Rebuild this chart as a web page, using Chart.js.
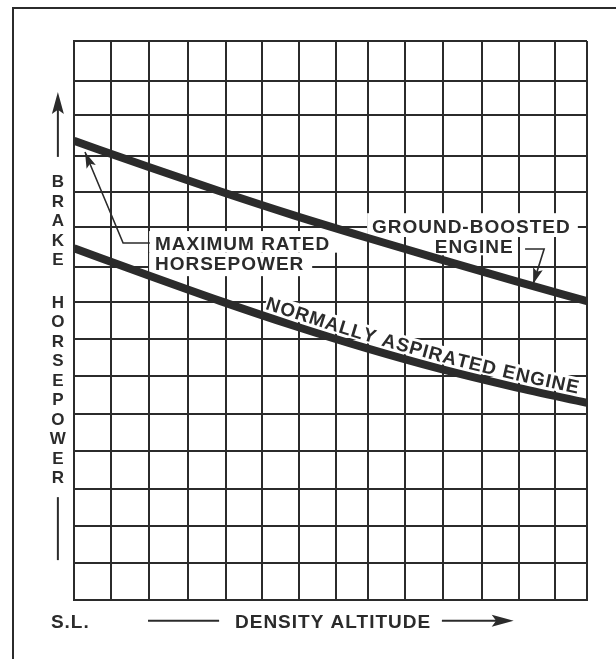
<!DOCTYPE html>
<html><head><meta charset="utf-8">
<script src="https://cdn.jsdelivr.net/npm/chart.js@4/dist/chart.umd.min.js"></script>
<style>html,body{margin:0;padding:0;background:#fff}#wrap{width:616px;height:659px;position:relative}</style>
</head><body><div id="wrap"><canvas id="c" width="616" height="659"></canvas></div>
<script>
// ---- data (grid units) ----
const altitude = [0, 2, 4, 6, 8, 10, 12, 14];
const groundBoosted = [12.32, 11.63, 10.96, 10.32, 9.72, 9.14, 8.57, 8.02];
const normallyAspirated = [9.44, 8.72, 8.02, 7.36, 6.75, 6.20, 5.72, 5.29];
// grid line positions (hand-drawn grid, slightly irregular)
const xGridTicks = [0, 1.01, 2.05, 3.11, 4.15, 5.13, 6.14, 7.15, 8.02, 9.02, 10.07, 11.13, 12.14, 13.13, 14];
const yGridTicks = [0, 0.99, 1.99, 2.98, 4.0, 4.99, 6.01, 7.0, 8.0, 8.94, 10.01, 10.95, 11.91, 13.01, 13.93, 15];
// texts
const yTitle = 'BRAKE HORSEPOWER';
const xTitle = 'DENSITY ALTITUDE';
const seaLevel = 'S.L.';
const maxLabel = ['MAXIMUM RATED', 'HORSEPOWER'];
const gbLabel = ['GROUND-BOOSTED', 'ENGINE'];
const naLabel = 'NORMALLY ASPIRATED ENGINE';

const INK = '#2b2b2b';
const FAM = '"Liberation Sans", Arial, Helvetica, sans-serif';
const FONT = 'bold 19px ' + FAM;

function P(chart, x, y) { return [chart.scales.x.getPixelForValue(x), chart.scales.y.getPixelForValue(y)]; }

function arrowHead(ctx, x1, y1, x2, y2, len, hw) {
  const a = Math.atan2(y2 - y1, x2 - x1);
  ctx.beginPath();
  ctx.moveTo(x2, y2);
  ctx.lineTo(x2 - len * Math.cos(a) + hw * Math.sin(a), y2 - len * Math.sin(a) - hw * Math.cos(a));
  ctx.lineTo(x2 - len * 0.8 * Math.cos(a), y2 - len * 0.8 * Math.sin(a));
  ctx.lineTo(x2 - len * Math.cos(a) - hw * Math.sin(a), y2 - len * Math.sin(a) + hw * Math.cos(a));
  ctx.closePath();
  ctx.fill();
}

function curvePoly(chart, idx) {
  const pts = chart.getDatasetMeta(idx).data;
  const poly = [];
  for (let i = 0; i < pts.length - 1; i++) {
    const a = pts[i], b = pts[i + 1];
    const c1x = a.cp2x ?? a.x, c1y = a.cp2y ?? a.y, c2x = b.cp1x ?? b.x, c2y = b.cp1y ?? b.y;
    for (let k = 0; k < 30; k++) {
      const t = k / 30, u = 1 - t;
      poly.push([u*u*u*a.x + 3*u*u*t*c1x + 3*u*t*t*c2x + t*t*t*b.x,
                 u*u*u*a.y + 3*u*u*t*c1y + 3*u*t*t*c2y + t*t*t*b.y]);
    }
  }
  const l = pts[pts.length - 1];
  poly.push([l.x, l.y]);
  const cum = [0];
  for (let i = 1; i < poly.length; i++) cum.push(cum[i-1] + Math.hypot(poly[i][0]-poly[i-1][0], poly[i][1]-poly[i-1][1]));
  return {poly, cum};
}
function at(c, s) {
  let i = 1;
  while (i < c.cum.length - 1 && c.cum[i] < s) i++;
  const p0 = c.poly[i-1], p1 = c.poly[i];
  const seg = c.cum[i] - c.cum[i-1] || 1;
  const t = (s - c.cum[i-1]) / seg;
  return [p0[0] + (p1[0]-p0[0]) * t, p0[1] + (p1[1]-p0[1]) * t, Math.atan2(p1[1]-p0[1], p1[0]-p0[0])];
}
function naGlyphs(chart, ctx) {
  const c = curvePoly(chart, 1);
  const sx = chart.scales.x.getPixelForValue(5.13);
  let s = 0;
  for (let i = 1; i < c.poly.length; i++) { if (c.poly[i][0] >= sx) { s = c.cum[i]; break; } }
  ctx.font = FONT;
  const LS = 1.0, D = 7;
  const out = [];
  for (const ch of naLabel) {
    const w = ctx.measureText(ch).width;
    const adv = w + LS;
    const [px, py, a] = at(c, s + adv / 2);
    out.push({ch, x: px + D * Math.sin(a), y: py - D * Math.cos(a), a, adv});
    s += adv;
  }
  return out;
}

const annot = {
  id: 'annot',
  beforeDraw(chart) {
    const ctx = chart.ctx;
    ctx.save();
    ctx.strokeStyle = INK; ctx.lineWidth = 2;
    ctx.beginPath(); ctx.moveTo(13, 659); ctx.lineTo(13, 8); ctx.lineTo(616, 8); ctx.stroke();
    ctx.restore();
  },
  beforeDatasetsDraw(chart) {
    const ctx = chart.ctx;
    ctx.save();
    ctx.fillStyle = '#fff';
    const rect = (x1, y1, x2, y2) => { const a = P(chart, x1, y1), b = P(chart, x2, y2); ctx.fillRect(a[0], a[1], b[0]-a[0], b[1]-a[1]); };
    rect(2.05, 9.90, 7.2, 9.32);   // MAXIMUM RATED
    rect(2.05, 9.32, 6.5, 8.69);   // HORSEPOWER
    rect(8.0, 10.38, 13.75, 9.74); // GROUND-BOOSTED
    rect(9.66, 9.77, 12.1, 9.25);  // ENGINE
    for (const g of naGlyphs(chart, ctx)) {
      ctx.save(); ctx.translate(g.x, g.y); ctx.rotate(g.a);
      ctx.fillRect(-g.adv/2 - 0.5, -16, g.adv + 1, 18);
      ctx.restore();
    }
    ctx.restore();
  },
  afterDatasetsDraw(chart) {
    const ctx = chart.ctx;
    ctx.save();
    ctx.fillStyle = INK; ctx.strokeStyle = INK;
    ctx.font = FONT;
    ctx.textBaseline = 'alphabetic';
    try { ctx.letterSpacing = '1px'; } catch (e) {}
    ctx.textAlign = 'left';
    let p = P(chart, 2.21, 9.39); ctx.fillText(maxLabel[0], p[0], p[1]);
    p = P(chart, 2.21, 8.855); ctx.fillText(maxLabel[1], p[0], p[1]);
    p = P(chart, 8.13, 9.85); ctx.fillText(gbLabel[0], p[0], p[1]);
    ctx.textAlign = 'center';
    p = P(chart, 10.92, 9.31); ctx.fillText(gbLabel[1], p[0], p[1]);
    ctx.lineWidth = 1.6;
    let t = P(chart, 0.30, 12.02), m = P(chart, 1.34, 9.58), e = P(chart, 2.07, 9.58);
    ctx.beginPath(); ctx.moveTo(e[0], e[1]); ctx.lineTo(m[0], m[1]); ctx.lineTo(t[0], t[1]); ctx.stroke();
    arrowHead(ctx, m[0], m[1], t[0], t[1], 16, 5);
    t = P(chart, 12.53, 8.48); m = P(chart, 12.83, 9.42); e = P(chart, 12.31, 9.42);
    ctx.beginPath(); ctx.moveTo(e[0], e[1]); ctx.lineTo(m[0], m[1]); ctx.lineTo(t[0], t[1]); ctx.stroke();
    arrowHead(ctx, m[0], m[1], t[0], t[1], 16, 5);
    try { ctx.letterSpacing = '0px'; } catch (e2) {}
    ctx.textAlign = 'center';
    for (const g of naGlyphs(chart, ctx)) {
      ctx.save(); ctx.translate(g.x, g.y); ctx.rotate(g.a);
      ctx.fillText(g.ch, 0, 0);
      ctx.restore();
    }
    ctx.font = 'bold 17px ' + FAM;
    ctx.textAlign = 'center';
    const yx = chart.scales.x.getPixelForValue(-0.44);
    let yy = chart.scales.y.getPixelForValue(11.24) + 6;
    for (const ch of yTitle) {
      if (ch === ' ') { yy += 23; continue; }
      ctx.fillText(ch, yx, yy);
      yy += 19.5;
    }
    ctx.lineWidth = 2;
    let a1 = P(chart, -0.44, 11.89), a2 = P(chart, -0.44, 13.63);
    ctx.beginPath(); ctx.moveTo(a1[0], a1[1]); ctx.lineTo(a2[0], a2[1] + 10); ctx.stroke();
    arrowHead(ctx, a1[0], a1[1], a2[0], a2[1], 22, 6);
    a1 = P(chart, -0.44, 2.76); a2 = P(chart, -0.44, 1.07);
    ctx.beginPath(); ctx.moveTo(a1[0], a1[1]); ctx.lineTo(a2[0], a2[1]); ctx.stroke();
    ctx.font = FONT;
    try { ctx.letterSpacing = '1px'; } catch (e3) {}
    ctx.textAlign = 'left';
    p = P(chart, -0.63, -0.75); ctx.fillText(seaLevel, p[0], p[1]);
    ctx.textAlign = 'center';
    p = P(chart, 7.07, -0.75); ctx.fillText(xTitle, p[0], p[1]);
    a1 = P(chart, 2.02, -0.56); a2 = P(chart, 3.96, -0.56);
    ctx.beginPath(); ctx.moveTo(a1[0], a1[1]); ctx.lineTo(a2[0], a2[1]); ctx.stroke();
    a1 = P(chart, 10.04, -0.56); a2 = P(chart, 12.0, -0.56);
    ctx.beginPath(); ctx.moveTo(a1[0], a1[1]); ctx.lineTo(a2[0] - 10, a2[1]); ctx.stroke();
    arrowHead(ctx, a1[0], a1[1], a2[0], a2[1], 22, 6);
    ctx.restore();
  }
};

const gridOpts = { color: INK, lineWidth: 2, drawTicks: false };
new Chart(document.getElementById('c'), {
  type: 'line',
  data: {
    datasets: [
      { label: 'Ground-boosted engine', data: altitude.map((x, i) => ({x, y: groundBoosted[i]})),
        borderColor: INK, borderWidth: 8, pointRadius: 0, cubicInterpolationMode: 'monotone', fill: false },
      { label: 'Normally aspirated engine', data: altitude.map((x, i) => ({x, y: normallyAspirated[i]})),
        borderColor: INK, borderWidth: 8, pointRadius: 0, cubicInterpolationMode: 'monotone', fill: false }
    ]
  },
  options: {
    responsive: false, animation: false, devicePixelRatio: 1,
    layout: { padding: { left: 74, right: 29, top: 41, bottom: 59 } },
    plugins: { legend: { display: false }, tooltip: { enabled: false }, title: { display: false } },
    scales: {
      x: { type: 'linear', min: 0, max: 14, ticks: { display: false }, grid: gridOpts,
           border: { display: true, color: INK, width: 2 },
           afterBuildTicks: s => { s.ticks = xGridTicks.map(v => ({value: v})); } },
      y: { type: 'linear', min: 0, max: 15, ticks: { display: false }, grid: gridOpts,
           border: { display: true, color: INK, width: 2 },
           afterBuildTicks: s => { s.ticks = yGridTicks.map(v => ({value: v})); } }
    }
  },
  plugins: [annot]
});
</script>
</body></html>
